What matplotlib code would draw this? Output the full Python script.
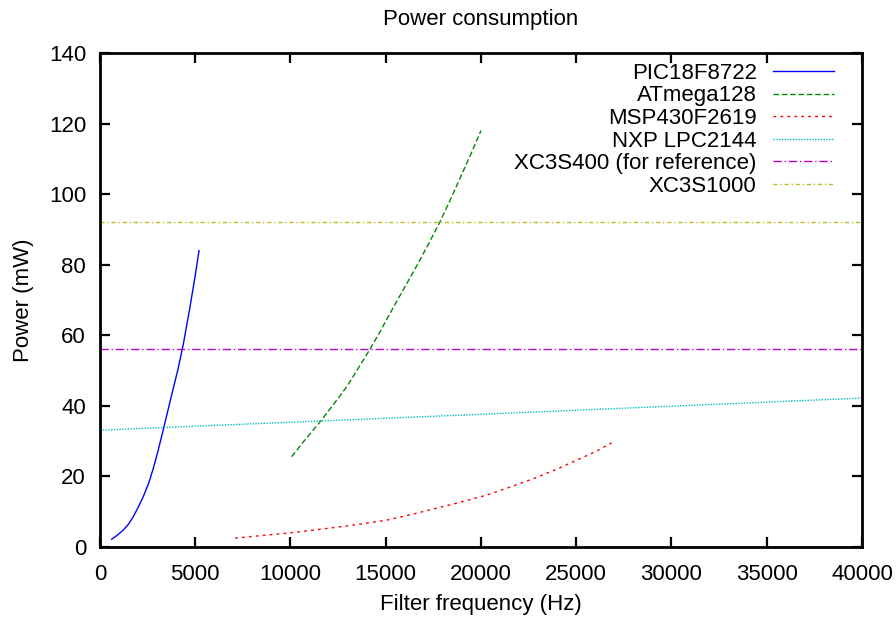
"""Power consumption of microcontrollers versus filter frequency."""

from matplotlib import pyplot as plt

plt.rcParams['font.family'] = ['Liberation Sans', 'DejaVu Sans']

# PIC18F8722
pic_f = [614, 900, 1225, 1500, 1750, 2000, 2275, 2550, 2800, 3050, 3325, 3600,
         3850, 4100, 4375, 4725, 5000, 5200]
pic_p = [2.2, 3.3, 4.8, 6.5, 8.6, 11.2, 14.3, 18.0, 22.3, 27.3, 33.3, 39.5,
         45.0, 50.5, 57.5, 68.0, 77.0, 84.0]
# ATmega128
atm_f = [10060, 10800, 11635, 12300, 12950, 13550, 14170, 14700, 15225, 15700,
         16100, 16700, 17250, 17850, 18400, 18900, 19450, 20000]
atm_p = [25.6, 30.6, 36.0, 40.7, 45.4, 50.6, 56.0, 61.0, 66.2, 70.8, 74.6,
         80.4, 85.9, 92.2, 98.5, 104.5, 111.1, 118.0]
# MSP430F2619
msp_f = [7090, 8400, 9800, 11100, 12420, 13700, 15050, 16350, 17670, 19000,
         20300, 21600, 22920, 24000, 25110, 26000, 26860]
msp_p = [2.5, 3.2, 3.9, 4.7, 5.6, 6.5, 7.6, 9.2, 11.0, 12.8, 14.7, 17.1,
         19.7, 22.1, 24.8, 27.0, 29.5]
# NXP LPC2144
nxp_f = [0, 20000, 40000]
nxp_p = [33.1, 37.6, 42.2]
# FPGAs (constant)
fpga_f = [0, 40000]
xc400_p = [56.0, 56.0]
xc1000_p = [92.0, 92.0]

fig = plt.figure(figsize=(8.96, 6.21), dpi=100)
ax = fig.add_axes([0.1116, 0.1192, 0.8504, 0.7955])

ax.plot(pic_f, pic_p, color='#0000ff', lw=1.0, label='PIC18F8722')
ax.plot(atm_f, atm_p, color='#008800', lw=1.0, ls=(0, (4, 2)), label='ATmega128')
ax.plot(msp_f, msp_p, color='#ff0000', lw=1.0, ls=(0, (2, 3)), label='MSP430F2619')
ax.plot(nxp_f, nxp_p, color='#00c0c0', lw=1.0, ls=(0, (1, 1)), label='NXP LPC2144')
ax.plot(fpga_f, xc400_p, color='#c000c0', lw=1.0, ls=(0, (6, 2, 1, 2)), label='XC3S400 (for reference)')
ax.plot(fpga_f, xc1000_p, color='#c0c020', lw=1.0, ls=(0, (3, 2, 1, 2)), label='XC3S1000')

ax.set_xlim(0, 40000)
ax.set_ylim(0, 140)
ax.set_xticks(range(0, 40001, 5000))
ax.set_yticks(range(0, 141, 20))
ax.tick_params(direction='in', length=7, width=1.6, top=True, right=True,
               labelsize=16, colors='black')
ax.tick_params(axis='x', pad=12)
ax.tick_params(axis='y', pad=10)
for s in ax.spines.values():
    s.set_linewidth(2)

ax.set_title('Power consumption', fontsize=16, pad=20)
ax.set_xlabel('Filter frequency (Hz)', fontsize=16, labelpad=7)
ax.set_ylabel('Power (mW)', fontsize=16, labelpad=11)

ax.legend(loc='upper right', bbox_to_anchor=(0.963, 0.980), frameon=False,
          markerfirst=False, fontsize=16, handlelength=2.75, handletextpad=0.72,
          labelspacing=0.07, borderaxespad=0, borderpad=0)

fig.savefig('out.png', dpi=100)
